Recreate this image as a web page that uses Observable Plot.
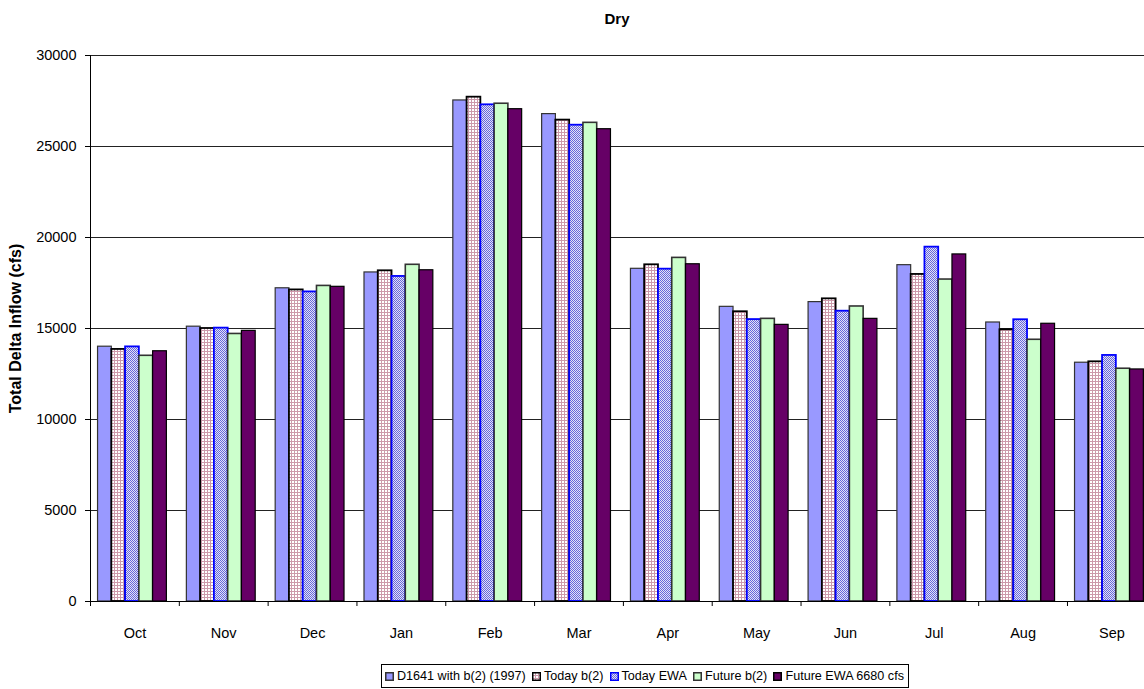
<!DOCTYPE html>
<html>
<head>
<meta charset="utf-8">
<script src="https://cdn.jsdelivr.net/npm/d3@7"></script>
<script src="https://cdn.jsdelivr.net/npm/@observablehq/plot@0.6"></script>
<style>
  html, body { margin: 0; padding: 0; background: #fff; overflow: hidden; }
  body { width: 1144px; height: 689px; position: relative; font-family: "Liberation Sans", Arial, sans-serif; }
  #title { position: absolute; left: 90px; width: 1054px; top: 10px; text-align: center; font-weight: bold; font-size: 15px; z-index: 2; }
  #chart { position: absolute; left: 0; top: 0; z-index: 1; }
  #legend { position: absolute; left: 381px; top: 664px; width: 528px; height: 24px; border: 1px solid #000; z-index: 2;
            display: flex; align-items: center; justify-content: space-between; padding: 0 4px 0 3px; font-size: 12.6px; background: #fff; box-sizing: border-box; }
  .item { display: flex; align-items: center; gap: 3px; white-space: nowrap; }
  .item svg { display: block; }
</style>
</head>
<body>
<div id="title">Dry</div>
<div id="chart"></div>
<div id="legend"></div>
<script>
const months = ["Oct", "Nov", "Dec", "Jan", "Feb", "Mar", "Apr", "May", "Jun", "Jul", "Aug", "Sep"];
const seriesNames = ["D1641 with b(2) (1997)", "Today b(2)", "Today EWA", "Future b(2)", "Future EWA 6680 cfs"];
const d1641     = [14000, 15100, 17210, 18080, 27530, 26780, 18280, 16190, 16450, 18480, 15330, 13120];
const todayB2   = [13850, 15000, 17120, 18170, 27710, 26450, 18500, 15920, 16630, 17970, 14930, 13170];
const todayEWA  = [13990, 15020, 17010, 17860, 27290, 26170, 18260, 15490, 15950, 19470, 15480, 13520];
const futureB2  = [13500, 14700, 17340, 18500, 27350, 26300, 18880, 15530, 16210, 17690, 14380, 12790];
const futureEWA = [13750, 14870, 17290, 18200, 27050, 25950, 18530, 15200, 15530, 19070, 15260, 12750];
const yTicks = [0, 5000, 10000, 15000, 20000, 25000, 30000];
const yLabel = "Total Delta Inflow (cfs)";

const seriesValues = [d1641, todayB2, todayEWA, futureB2, futureEWA];
const fills = ["#9999FF", "url(#pinkGrid)", "url(#blueCheck)", "#CCFFCC", "#660066"];
const strokes = ["#333333", "#000000", "#0000FF", "#333333", "#000000"];
const strokeWidths = [1.2, 1.8, 1.8, 1.6, 1.2];

const groupOffset = 0.085, barW = 0.155;

function defsMark() {
  const defs = d3.create("svg:defs");
  const p1 = defs.append("pattern").attr("id", "pinkGrid").attr("patternUnits", "userSpaceOnUse").attr("width", 3).attr("height", 3);
  p1.append("rect").attr("width", 3).attr("height", 3).attr("fill", "#ffffff");
  p1.append("rect").attr("width", 3).attr("height", 1).attr("fill", "#CC99AA");
  p1.append("rect").attr("width", 1).attr("height", 3).attr("fill", "#CC99AA");
  const p2 = defs.append("pattern").attr("id", "blueCheck").attr("patternUnits", "userSpaceOnUse").attr("width", 2).attr("height", 2);
  p2.append("rect").attr("width", 2).attr("height", 2).attr("fill", "#E4E4F4");
  p2.append("rect").attr("width", 1).attr("height", 1).attr("fill", "#6666DD");
  p2.append("rect").attr("x", 1).attr("y", 1).attr("width", 1).attr("height", 1).attr("fill", "#6666DD");
  return defs.node();
}

const barMarks = seriesValues.map((vals, s) => {
  const rows = months.map((m, i) => ({month: m, i, value: vals[i]}));
  return Plot.rectY(rows, {
    x1: d => d.i + groupOffset + s * barW,
    x2: d => d.i + groupOffset + (s + 1) * barW,
    y1: 0,
    y2: "value",
    fill: fills[s],
    stroke: strokes[s],
    strokeWidth: strokeWidths[s]
  });
});

const chart = Plot.plot({
  width: 1144,
  height: 689,
  marginTop: 55,
  marginBottom: 88,
  marginLeft: 90,
  marginRight: -11.8,
  style: {fontFamily: "'Liberation Sans', Arial, sans-serif", fontSize: "14.5px", background: "white", overflow: "hidden"},
  x: {type: "linear", domain: [0, 12]},
  y: {domain: [0, 30000]},
  marks: [
    defsMark,
    Plot.ruleY(yTicks.filter(t => t > 0), {stroke: "#222", strokeWidth: 1}),
    ...barMarks,
    Plot.ruleY([0], {stroke: "#000", strokeWidth: 1}),
    Plot.ruleX([0], {stroke: "#000", strokeWidth: 1}),
    Plot.axisY(yTicks, {tickSize: 5, tickPadding: 9, tickFormat: d => String(d), label: null, stroke: "#000"}),
    Plot.axisX(d3.range(13), {tickSize: 5, tickFormat: () => "", label: null, stroke: "#000"}),
    Plot.axisX(months.map((m, i) => i + 0.5), {tickSize: 0, tickPadding: 26, tickFormat: t => months[Math.floor(t)], label: null}),
    Plot.text([yLabel], {frameAnchor: "left", dx: -75, rotate: -90, textAnchor: "middle", fontWeight: "bold", fontSize: 16})
  ]
});
document.getElementById("chart").appendChild(chart);

const legend = document.getElementById("legend");
seriesNames.forEach((name, s) => {
  const item = document.createElement("div");
  item.className = "item";
  item.innerHTML = `<svg width="9" height="9"><rect x="0.75" y="0.75" width="7.5" height="7.5" fill="${fills[s]}" stroke="${strokes[s]}" stroke-width="1.5"/></svg><span>${name}</span>`;
  legend.appendChild(item);
});
</script>
</body>
</html>
